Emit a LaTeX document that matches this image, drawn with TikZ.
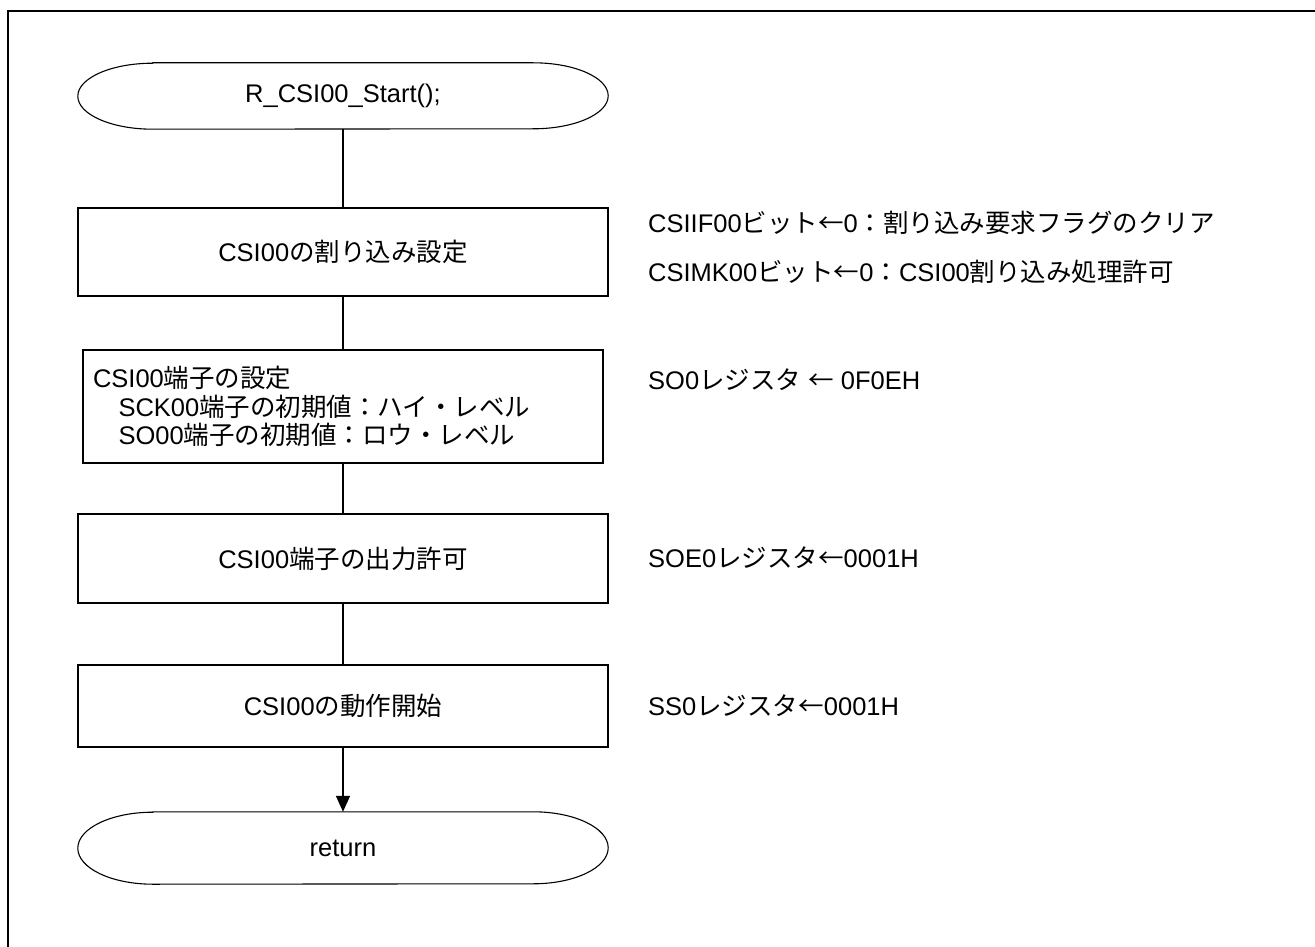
\documentclass[tikz,border=0pt]{standalone}
\usepackage{fontspec}
\setmainfont{Liberation Sans}
\newfontfamily\jpfont{Noto Sans CJK JP}
\newcommand\J[1]{{\jpfont #1}}
\usetikzlibrary{arrows.meta,calc}
\tikzset{
  base/.style={font=\fontsize{25.5}{28.5}\selectfont, inner sep=0pt},
  proc/.style={base, draw, line width=1.6pt, minimum width=530pt, align=center},
  term/.style={base, minimum width=530pt},
  termline/.style={line width=1.1pt},
  note/.style={base, anchor=west},
  link/.style={line width=1.6pt},
  frame/.style={line width=2.2pt},
}
\newcommand\termoutline[2]{%
  \draw[termline] ($(#1.north west)+(75,0)$) -- ($(#1.north east)+(-75,0)$)
    arc[start angle=90,end angle=-90,x radius=75,y radius=#2]
    -- ($(#1.south west)+(75,0)$)
    arc[start angle=270,end angle=90,x radius=75,y radius=#2] -- cycle;}
\begin{document}
\begin{tikzpicture}[x=1pt,y=1pt]
\useasboundingbox (0,0) rectangle (1315,-947);
\draw[frame] (8,-950) -- (8,-11) -- (1320,-11);

\node[term, minimum height=66pt] (start) at (343,-96) {R\_CSI00\_Start();};
\termoutline{start}{33}

\node[proc, minimum height=88pt] (b1) at (343,-252) {CSI00\J{の割り込み設定}};

\node[base, draw, line width=1.6pt, minimum width=520pt, minimum height=113pt,
      text width=500pt, align=left, inner xsep=10pt] (b2) at (343,-406.5)
  {CSI00\J{端子の設定}\\
   \J{　}SCK00\J{端子の初期値：ハイ・レベル}\\
   \J{　}SO00\J{端子の初期値：ロウ・レベル}};

\node[proc, minimum height=89pt] (b3) at (343,-558.5) {CSI00\J{端子の出力許可}};

\node[proc, minimum height=82pt] (b4) at (343,-706) {CSI00\J{の動作開始}};

\node[term, minimum height=72pt] (ret) at (343,-848) {return};
\termoutline{ret}{36}

\draw[link] (start.south) -- (b1.north);
\draw[link] (b1.south) -- (b2.north);
\draw[link] (b2.south) -- (b3.north);
\draw[link] (b3.south) -- (b4.north);
\draw[link, -{Triangle[width=14pt,length=16pt]}] (b4.south) -- (ret.north);

\node[note] (n1) at (648,-223) {CSIIF00\J{ビット←}0\J{：割り込み要求フラグのクリア}};
\node[note] (n2) at (648,-272) {CSIMK00\J{ビット←}0\J{：}CSI00\J{割り込み処理許可}};
\node[note] (n3) at (648,-380) {SO0\J{レジスタ} \J{←} 0F0EH};
\node[note] (n4) at (648,-558) {SOE0\J{レジスタ←}0001H};
\node[note] (n5) at (648,-706) {SS0\J{レジスタ←}0001H};
\end{tikzpicture}
\end{document}
